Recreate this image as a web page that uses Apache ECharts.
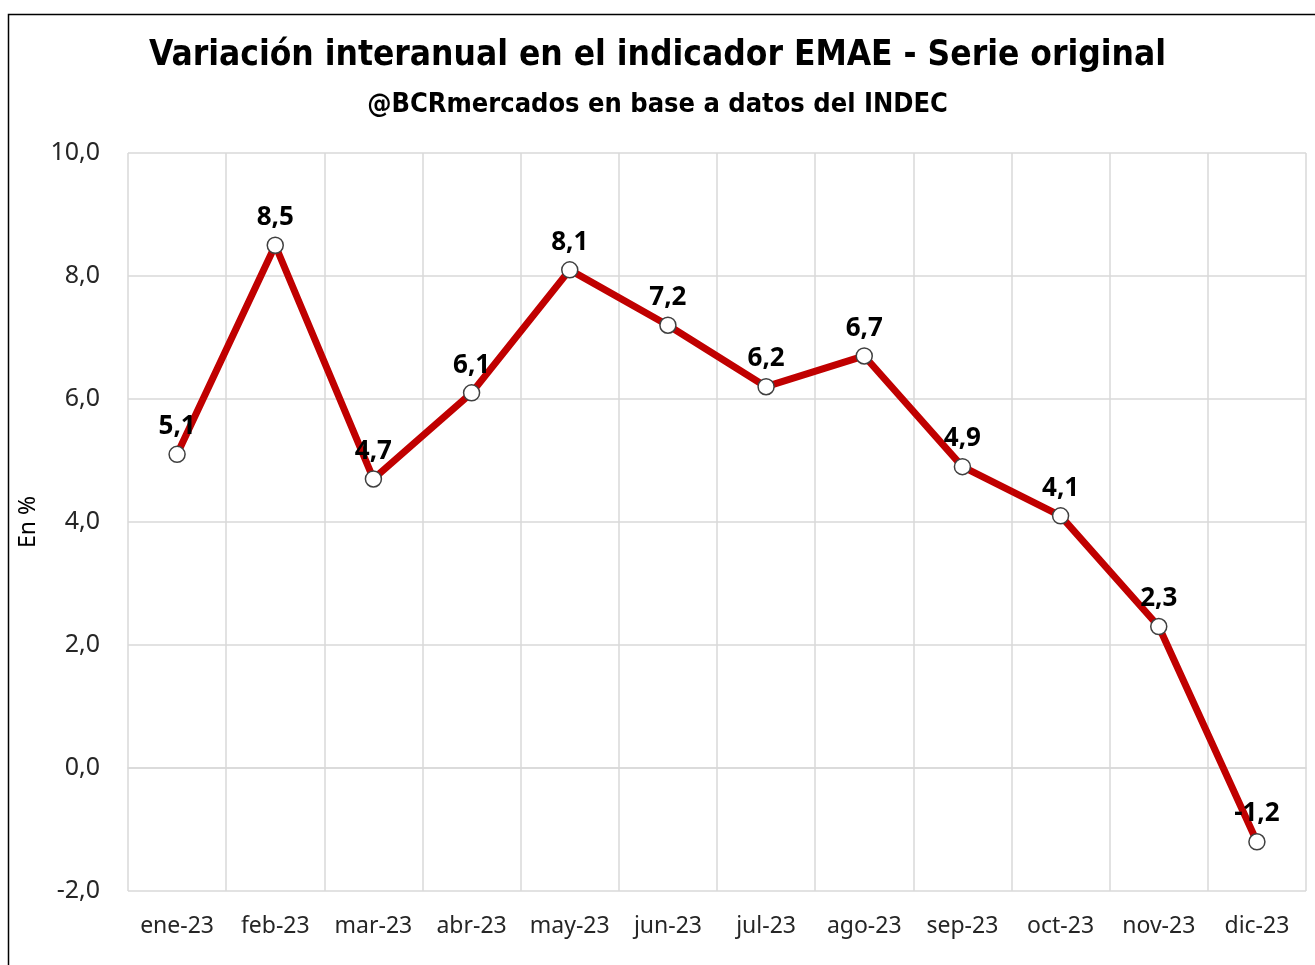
<!DOCTYPE html>
<html>
<head>
<meta charset="utf-8">
<script src="https://cdn.jsdelivr.net/npm/echarts@6/dist/echarts.min.js"></script>
<style>
  html, body { margin: 0; padding: 0; background: #fff; }
  #chart { width: 1315px; height: 965px; }
</style>
</head>
<body>
<div id="chart"></div>
<script>
// meses y variacion interanual EMAE (%)
const months = ['ene-23', 'feb-23', 'mar-23', 'abr-23', 'may-23', 'jun-23',
  'jul-23', 'ago-23', 'sep-23', 'oct-23', 'nov-23', 'dic-23'];
const emae = [5.1, 8.5, 4.7, 6.1, 8.1, 7.2, 6.2, 6.7, 4.9, 4.1, 2.3, -1.2];

const fmt = v => v.toFixed(1).replace('.', ',');

const chart = echarts.init(document.getElementById('chart'));
const option = {
  animation: false,
  backgroundColor: '#fff',
  title: [
    {
      text: 'Variación interanual en el indicador EMAE - Serie original',
      left: 'center',
      top: 33,
      textStyle: {
        fontFamily: 'DejaVu Sans Condensed',
        fontWeight: 'bold',
        fontSize: 35,
        color: '#000'
      }
    },
    {
      text: '@BCRmercados en base a datos del INDEC',
      left: 'center',
      top: 86,
      textStyle: {
        fontFamily: 'DejaVu Sans Condensed',
        fontWeight: 'bold',
        fontSize: 27,
        color: '#000'
      }
    }
  ],
  graphic: [{
    type: 'rect',
    shape: {x: 8.5, y: 14.5, width: 1320, height: 970},
    style: {fill: 'none', stroke: '#000', lineWidth: 1.5},
    silent: true
  }],
  grid: {left: 128, right: 9, top: 153, bottom: 74},
  xAxis: {
    type: 'category',
    data: months,
    boundaryGap: true,
    axisLine: {lineStyle: {color: '#d9d9d9', width: 1.5}},
    axisTick: {show: false},
    axisLabel: {
      color: '#262626',
      fontFamily: 'Noto Sans',
      fontSize: 23,
      margin: 24,
      interval: 0
    },
    splitLine: {show: true, interval: 0, lineStyle: {color: '#d9d9d9', width: 1.5}}
  },
  yAxis: {
    type: 'value',
    min: -2,
    max: 10,
    interval: 2,
    name: 'En %',
    nameLocation: 'middle',
    nameGap: 88,
    nameTextStyle: {fontFamily: 'Noto Sans', fontSize: 23, color: '#000'},
    axisLine: {show: false},
    axisTick: {show: false},
    axisLabel: {
      color: '#262626',
      fontFamily: 'Noto Sans',
      fontSize: 25,
      margin: 28,
      formatter: v => fmt(v)
    },
    splitLine: {lineStyle: {color: '#d9d9d9', width: 1.5}}
  },
  series: [{
    type: 'line',
    data: emae,
    symbol: 'circle',
    symbolSize: 16,
    lineStyle: {color: '#c00000', width: 7},
    itemStyle: {color: '#fff', borderColor: '#404040', borderWidth: 1.5},
    label: {
      show: true,
      position: 'top',
      distance: 6,
      fontFamily: 'Noto Sans',
      fontWeight: 'bold',
      fontSize: 26,
      color: '#000',
      formatter: p => fmt(p.value)
    },
    z: 3
  }]
};
chart.setOption(option);
</script>
</body>
</html>
